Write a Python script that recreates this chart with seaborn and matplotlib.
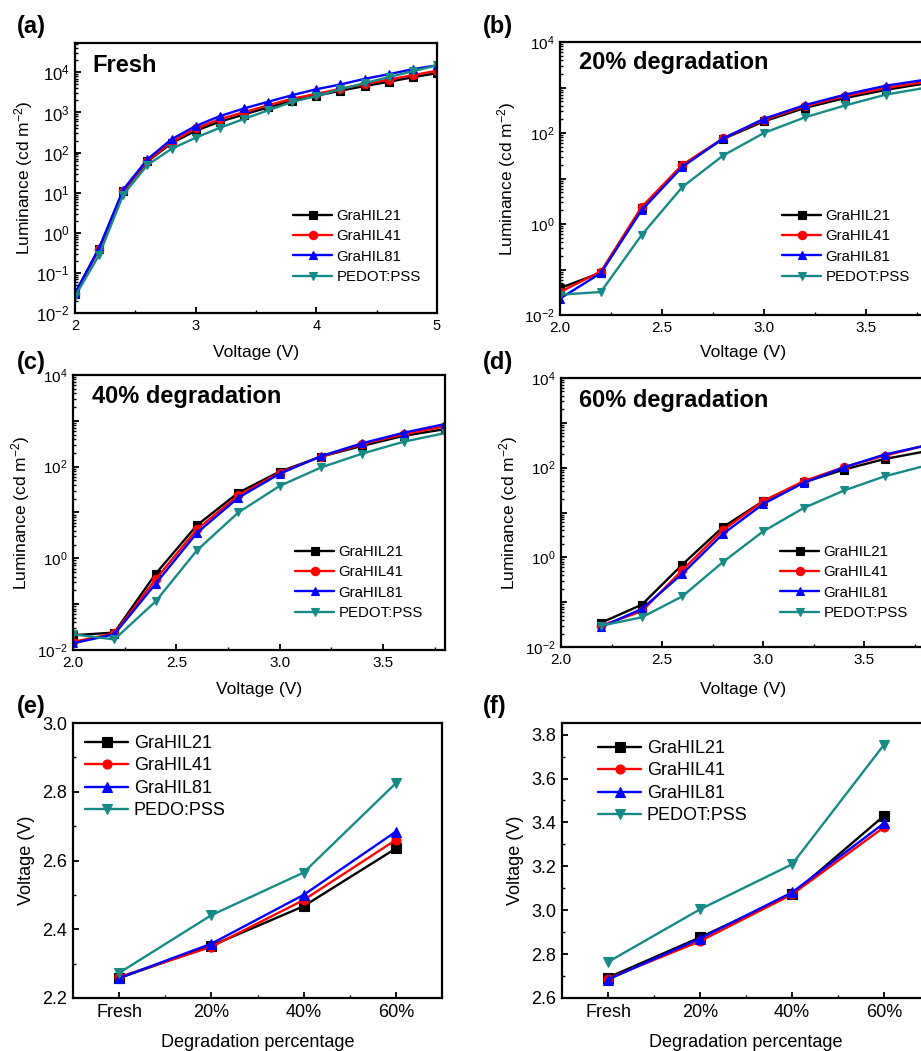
import numpy as np
import matplotlib
matplotlib.use("Agg")
import matplotlib.pyplot as plt
import seaborn as sns
from matplotlib.ticker import FixedLocator, MultipleLocator, FuncFormatter, NullFormatter

# ---------------------------------------------------------------- data
devices = ["GraHIL21", "GraHIL41", "GraHIL81", "PEDOT:PSS"]
devices_e = ["GraHIL21", "GraHIL41", "GraHIL81", "PEDO:PSS"]
colors = ["#000000", "#ff0000", "#0000ff", "#178a86"]
markers = ["s", "o", "^", "v"]

# (a) fresh devices
volt_a = [2.0, 2.2, 2.4, 2.6, 2.8, 3.0, 3.2, 3.4, 3.6, 3.8, 4.0, 4.2, 4.4, 4.6, 4.8, 5.0]
lum_a_21 = [0.03, 0.40, 11, 60, 172, 350, 590, 890, 1340, 1950, 2600, 3500, 4550, 5850, 7550, 9600]
lum_a_41 = [0.03, 0.40, 11, 62, 185, 400, 680, 1020, 1500, 2200, 2900, 3900, 5100, 6600, 8500, 11000]
lum_a_81 = [0.031, 0.42, 12, 68, 215, 460, 810, 1260, 1850, 2700, 3800, 5000, 6900, 9000, 12000, 15000]
lum_a_pe = [0.026, 0.28, 8.9, 49, 124, 235, 415, 690, 1130, 1830, 2570, 3800, 5400, 7600, 10700, 15000]

# (b) 20 % degradation
volt_b = [2.0, 2.2, 2.4, 2.6, 2.8, 3.0, 3.2, 3.4, 3.6, 3.8]
lum_b_21 = [0.039, 0.085, 2.2, 19.5, 74, 180, 355, 590, 890, 1250]
lum_b_41 = [0.032, 0.090, 2.35, 20, 76, 195, 385, 650, 980, 1350]
lum_b_81 = [0.023, 0.083, 2.0, 18, 76, 205, 410, 700, 1100, 1500]
lum_b_pe = [0.028, 0.032, 0.57, 6.5, 32, 100, 220, 405, 700, 1000]

# (c) 40 % degradation
volt_c = [2.0, 2.2, 2.4, 2.6, 2.8, 3.0, 3.2, 3.4, 3.6, 3.8]
lum_c_21 = [0.021, 0.024, 0.46, 5.3, 27, 78, 165, 285, 470, 660]
lum_c_41 = [0.015, 0.023, 0.35, 4.3, 23.5, 74, 165, 310, 510, 760]
lum_c_81 = [0.014, 0.022, 0.28, 3.6, 21, 70, 170, 325, 550, 850]
lum_c_pe = [0.022, 0.017, 0.115, 1.5, 10, 38, 96, 193, 350, 540]

# (d) 60 % degradation
volt_d = [2.2, 2.4, 2.6, 2.8, 3.0, 3.2, 3.4, 3.6, 3.8]
lum_d_21 = [0.035, 0.088, 0.69, 4.7, 18, 47, 91, 156, 230]
lum_d_41 = [0.030, 0.063, 0.52, 4.0, 18, 50, 103, 185, 310]
lum_d_81 = [0.028, 0.071, 0.43, 3.3, 15.5, 46, 102, 196, 310]
lum_d_pe = [0.030, 0.046, 0.135, 0.78, 3.8, 12.6, 31, 64, 110]

# (e), (f) driving voltage versus degradation stage
stages = ["Fresh", "20%", "40%", "60%"]
volt_e_21 = [2.258, 2.352, 2.467, 2.635]
volt_e_41 = [2.261, 2.349, 2.485, 2.660]
volt_e_81 = [2.258, 2.358, 2.500, 2.684]
volt_e_pe = [2.273, 2.441, 2.565, 2.825]

volt_f_21 = [2.693, 2.876, 3.072, 3.430]
volt_f_41 = [2.688, 2.859, 3.072, 3.378]
volt_f_81 = [2.684, 2.871, 3.081, 3.396]
volt_f_pe = [2.764, 3.004, 3.209, 3.754]

# ---------------------------------------------------------------- style
sns.set_style("ticks")
plt.rcParams["font.family"] = ["Liberation Sans", "DejaVu Sans"]
plt.rcParams["mathtext.fontset"] = "custom"
plt.rcParams["mathtext.rm"] = "Liberation Sans"
plt.rcParams["mathtext.it"] = "Liberation Sans:italic"
plt.rcParams["mathtext.bf"] = "Liberation Sans:bold"
plt.rcParams["axes.linewidth"] = 1.6
plt.rcParams["axes.edgecolor"] = "black"
plt.rcParams["text.color"] = "black"
plt.rcParams["axes.labelcolor"] = "black"
plt.rcParams["xtick.color"] = "black"
plt.rcParams["ytick.color"] = "black"
plt.rcParams["xtick.labelcolor"] = "black"
plt.rcParams["ytick.labelcolor"] = "black"

W, H = 921, 1051
fig = plt.figure(figsize=(W / 100, H / 100), dpi=100)


def add_axes(left, right, top, bottom):
    return fig.add_axes([left / W, 1 - bottom / H, (right - left) / W, (bottom - top) / H])


def px_to_axes(ax_box, x, y):
    left, right, top, bottom = ax_box
    return (x - left) / (right - left), (bottom - y) / (bottom - top)


def draw_series(ax, xs, ys_list, lw=1.7, ms=6.0):
    for ys, c, m, lab in zip(ys_list, colors, markers, devices):
        sns.lineplot(x=xs, y=ys, color=c, marker=m, markersize=ms,
                     markeredgecolor=c, markeredgewidth=0.8, linewidth=lw,
                     label=lab, ax=ax, sort=False)


def style_ticks(ax, size):
    ax.tick_params(which="both", direction="in", top=False, right=False,
                   labelsize=size, colors="black")
    ax.tick_params(which="major", length=4.5, width=1.3, pad=4)
    ax.tick_params(which="minor", length=2.5, width=1.0)
    for s in ax.spines.values():
        s.set_visible(True)
        s.set_linewidth(1.6)
        s.set_color("black")


def decade_labels(every):
    def fmt(v, pos):
        e = int(round(np.log10(v)))
        return f"$10^{{{e}}}$" if e % every == 0 else ""
    return FuncFormatter(fmt)


def lum_panel(box, xs, ys_list, xlim, xmaj, xmin, ylim, every, title, title_px,
              legend_px, ylabel_x, xlabel_y, xtick_size, ytick_size):
    ax = add_axes(*box)
    ax.set_yscale("log")
    draw_series(ax, xs, ys_list)
    ax.set_xlim(*xlim)
    ax.set_ylim(*ylim)
    ax.xaxis.set_major_locator(MultipleLocator(xmaj))
    ax.xaxis.set_minor_locator(MultipleLocator(xmin))
    decs = [10.0 ** k for k in range(-2, 5)]
    ax.yaxis.set_major_locator(FixedLocator(decs))
    ax.yaxis.set_major_formatter(decade_labels(every))
    ax.yaxis.set_minor_locator(FixedLocator(
        [m * 10.0 ** k for k in range(-2, 5) for m in range(2, 10)]))
    ax.yaxis.set_minor_formatter(NullFormatter())
    style_ticks(ax, xtick_size)
    ax.tick_params(axis="y", labelsize=ytick_size)
    if xmaj == 0.5:
        ax.xaxis.set_major_formatter(FuncFormatter(lambda v, p: f"{v:.1f}"))
    ax.set_xlabel("Voltage (V)", fontsize=12.5)
    ax.set_ylabel("Luminance (cd m$^{-2}$)", fontsize=12.5)
    ax.yaxis.set_label_coords(px_to_axes(box, ylabel_x, 0)[0], 0.5)
    ax.xaxis.set_label_coords(0.5, px_to_axes(box, 0, xlabel_y)[1])
    tx, ty = px_to_axes(box, *title_px)
    ax.text(tx, ty, title, transform=ax.transAxes, fontsize=17,
            fontweight="bold", va="center", ha="left", color="black")
    lx, ly = px_to_axes(box, *legend_px)
    ax.legend(loc="upper left", bbox_to_anchor=(lx, ly), frameon=False,
              fontsize=10.8, handlelength=2.6, handletextpad=0.3,
              labelspacing=0.42, borderpad=0, borderaxespad=0)
    return ax


# (a)
lum_panel((75, 437, 43, 313), volt_a, [lum_a_21, lum_a_41, lum_a_81, lum_a_pe],
          (2, 5), 1, 0.5, (1e-2, 5.4e4), 1, "Fresh", (92, 65),
          (293, 209), 35, 345, 10.5, 12)
# (b)
lum_panel((560, 927, 42, 315), volt_b, [lum_b_21, lum_b_41, lum_b_81, lum_b_pe],
          (2.0, 3.8), 0.5, 0.25, (1e-2, 1e4), 2, "20% degradation", (579, 62),
          (782, 209), 518, 345, 11, 11)
# (c)
lum_panel((73, 445, 375, 650), volt_c, [lum_c_21, lum_c_41, lum_c_81, lum_c_pe],
          (2.0, 3.8), 0.5, 0.25, (1e-2, 1e4), 2, "40% degradation", (92, 397),
          (295, 545), 32, 682, 11, 11)
# (d)
lum_panel((561, 925, 378, 647), volt_d, [lum_d_21, lum_d_41, lum_d_81, lum_d_pe],
          (2.0, 3.8), 0.5, 0.25, (1e-2, 1e4), 2, "60% degradation", (579, 400),
          (780, 545), 520, 682, 11, 11)


def stage_panel(box, ys_list, labels, ylim, legend_px, ylabel_x):
    ax = add_axes(*box)
    pos = list(range(len(stages)))
    for ys, c, m, lab in zip(ys_list, colors, markers, labels):
        sns.lineplot(x=pos, y=ys, color=c, marker=m, markersize=6.5,
                     markeredgecolor=c, markeredgewidth=0.8, linewidth=1.7,
                     label=lab, ax=ax, sort=False)
    ax.set_xlim(-0.5, len(stages) - 0.5)
    ax.set_ylim(*ylim)
    ax.set_xticks(pos)
    ax.set_xticklabels(stages)
    ax.xaxis.set_minor_locator(FixedLocator([p + 0.5 for p in pos[:-1]]))
    ax.yaxis.set_major_locator(MultipleLocator(0.2))
    ax.yaxis.set_minor_locator(MultipleLocator(0.1))
    ax.yaxis.set_major_formatter(FuncFormatter(lambda v, p: f"{v:.1f}"))
    style_ticks(ax, 13)
    ax.set_xlabel("Degradation percentage", fontsize=13)
    ax.set_ylabel("Voltage (V)", fontsize=13)
    ax.yaxis.set_label_coords(px_to_axes(box, ylabel_x, 0)[0], 0.5)
    ax.xaxis.set_label_coords(0.5, px_to_axes(box, 0, 1034)[1])
    lx, ly = px_to_axes(box, *legend_px)
    ax.legend(loc="upper left", bbox_to_anchor=(lx, ly), frameon=False,
              fontsize=13, handlelength=2.4, handletextpad=0.3,
              labelspacing=0.3, borderpad=0, borderaxespad=0)
    return ax


# (e)
stage_panel((73, 442, 723, 998), [volt_e_21, volt_e_41, volt_e_81, volt_e_pe],
            devices_e, (2.2, 3.0), (85, 735), 35)
# (f)
stage_panel((562, 930, 723, 998), [volt_f_21, volt_f_41, volt_f_81, volt_f_pe],
            devices, (2.6, 3.853), (598, 740), 524)

# panel letters
for lab, x, y in [("(a)", 17, 27), ("(b)", 483, 26), ("(c)", 17, 363),
                  ("(d)", 483, 363), ("(e)", 17, 707), ("(f)", 483, 707)]:
    fig.text(x / W, 1 - y / H, lab, fontsize=17, fontweight="bold",
             ha="left", va="center", color="black")

fig.savefig("out.png", dpi=100)
